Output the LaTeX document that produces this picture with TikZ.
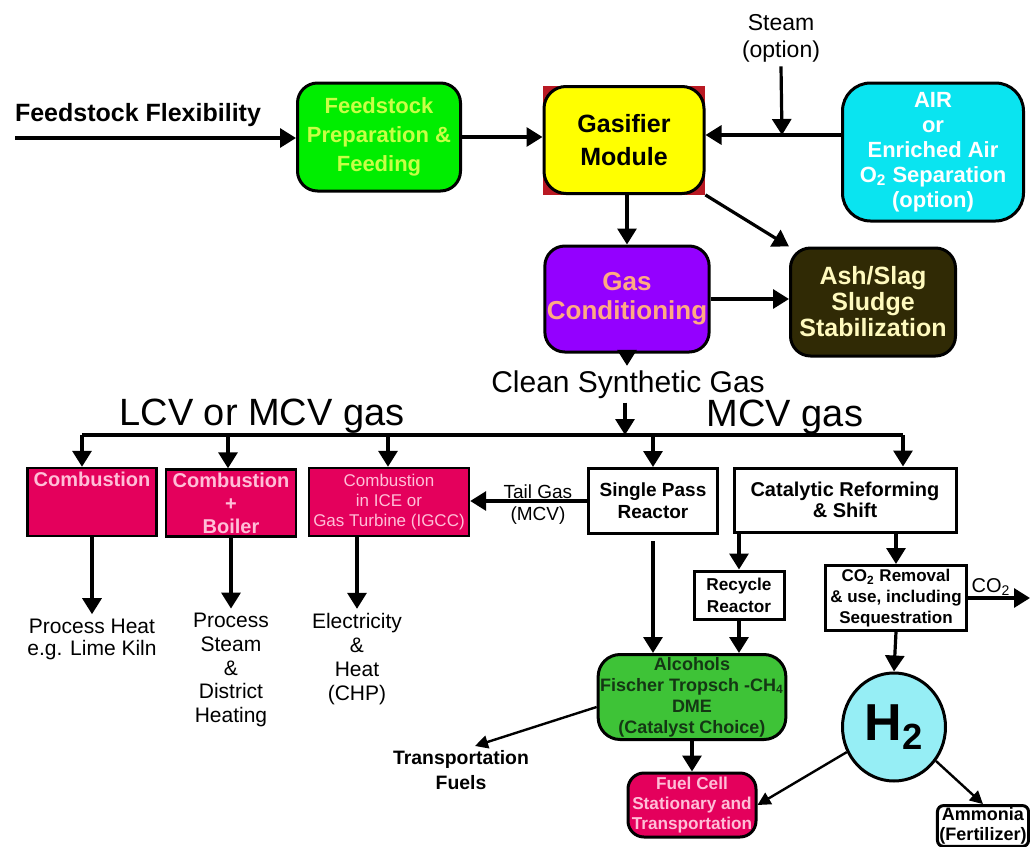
\documentclass[tikz,border=0pt]{standalone}
\usepackage{fontspec}
\setmainfont{Liberation Sans}
\usetikzlibrary{arrows.meta,shapes.geometric}
\definecolor{FeedGreen}{RGB}{0,238,0}
\definecolor{FeedText}{RGB}{200,255,70}
\definecolor{GasYellow}{RGB}{255,255,0}
\definecolor{GasRed}{RGB}{185,25,35}
\definecolor{AirCyan}{RGB}{10,228,240}
\definecolor{CondPurple}{RGB}{148,0,255}
\definecolor{CondText}{RGB}{255,170,130}
\definecolor{AshOlive}{RGB}{48,42,5}
\definecolor{AshText}{RGB}{255,250,190}
\definecolor{CombRed}{RGB}{228,0,92}
\definecolor{CombText}{RGB}{255,190,215}
\definecolor{AlcGreen}{RGB}{62,195,55}
\definecolor{AlcText}{RGB}{20,55,20}
\definecolor{HydroCyan}{RGB}{150,238,245}
\tikzset{
  syn/box/.style={
    draw=black,
    line width=1.5pt,
    align=center,
    inner sep=1pt,
    font=\bfseries
  },
  syn/round/.style={syn/box, rounded corners=10pt},
  syn/plain/.style={syn/box, fill=white},
  syn/comb/.style={syn/box, line width=1.2pt, fill=CombRed, text=CombText},
  syn/label/.style={align=center, inner sep=2pt},
  syn/arrow/.style={-{Triangle[length=8pt,width=9.5pt]}, line width=1.6pt},
  syn/thin/.style={-{Triangle[length=6.5pt,width=6.5pt]}, line width=1.2pt},
  syn/line/.style={line width=1.6pt}
}
\begin{document}
\begin{tikzpicture}[x=0.5pt,y=-0.5pt]
  \path[use as bounding box, fill=white] (0,0) rectangle (1030,847);

  % feed line and gasifier
  \node[syn/label, font=\bfseries\fontsize{12.5}{14}\selectfont, anchor=base] (flex) at (138,121) {Feedstock Flexibility};
  \node[syn/round, fill=FeedGreen, text=FeedText, minimum width=81.5pt, minimum height=54pt,
        font=\bfseries\fontsize{11}{14.5}\selectfont] (prep) at (379,137) {Feedstock\\Preparation \&\\Feeding};
  \node[fill=GasRed, inner sep=0pt, minimum width=81pt, minimum height=54.5pt] (gasback) at (624,140) {};
  \node[syn/round, fill=GasYellow, rounded corners=11pt, minimum width=80pt, minimum height=53.5pt,
        font=\bfseries\fontsize{12.5}{16.5}\selectfont] (gasifier) at (624,140) {Gasifier\\Module};
  \node[syn/label, font=\fontsize{11.5}{13.5}\selectfont] (steam) at (781,38) {Steam\\(option)};
  \coordinate (steamjoin) at (782,135);
  \node[syn/round, fill=AirCyan, text=white, rounded corners=14pt, minimum width=90.5pt, minimum height=69pt,
        font=\bfseries\fontsize{11}{12.5}\selectfont] (air) at (933,152) {AIR\\or\\Enriched Air\\O\textsubscript{2} Separation\\(option)};
  \coordinate (feedin) at (15,138);
  \draw[syn/arrow] (feedin) -- (feedin -| prep.west);
  \draw[syn/arrow] (prep.east) -- (prep.east -| gasifier.west);
  \draw[syn/arrow] (steam.south) -- (steamjoin);
  \draw[syn/arrow] (air.west |- steamjoin) -- (gasifier.east |- steamjoin);

  % conditioning
  \node[syn/round, fill=CondPurple, text=CondText, minimum width=81.5pt, minimum height=53pt,
        font=\bfseries\fontsize{13}{14.5}\selectfont] (cond) at (627,299) {Gas\\Conditioning};
  \node[syn/round, fill=AshOlive, text=AshText, minimum width=82.5pt, minimum height=54pt,
        font=\bfseries\fontsize{12.5}{13}\selectfont] (ash) at (873,302) {Ash/Slag\\Sludge\\Stabilization};
  \draw[syn/arrow] (cond.north |- gasback.south) -- (cond.north);
  \draw[syn/arrow] (gasback.south east) -- (ash.north west);
  \draw[syn/arrow] (cond.east) -- (cond.east -| ash.west);

  % syngas split
  \node[syn/label, font=\fontsize{15}{17}\selectfont, anchor=base] (syngas) at (628,392) {Clean Synthetic Gas};
  \node[syn/label, font=\fontsize{19}{21}\selectfont, anchor=base] (lcv) at (262,425) {LCV or MCV gas};
  \node[syn/label, font=\fontsize{19}{21}\selectfont, anchor=base] (mcv) at (785,426) {MCV gas};
  \coordinate (bus1) at (82,435);
  \coordinate (bus2) at (228,435);
  \coordinate (bus3) at (388,435);
  \coordinate (busin) at (625,435);
  \coordinate (bus4) at (653,435);
  \coordinate (bus5) at (903,435);
  \draw[syn/arrow] (cond.south) -- (cond.south |- syngas.north);
  \draw[syn/arrow] (syngas.south -| busin) -- (busin);
  \draw[syn/line] (bus1) -- (bus5);

  % combustion side
  \node[syn/comb, minimum width=64.5pt, minimum height=34pt,
        font=\bfseries\fontsize{10}{11.5}\selectfont] (comb1) at (92,502) {Combustion\\~\\~};
  \node[syn/comb, minimum width=65pt, minimum height=33.5pt,
        font=\bfseries\fontsize{10}{11.5}\selectfont] (comb2) at (231,503) {Combustion\\+\\Boiler};
  \node[syn/comb, minimum width=80pt, minimum height=34pt,
        font=\fontsize{8.5}{10}\selectfont] (comb3) at (389,502) {Combustion\\in ICE or\\Gas Turbine (IGCC)};
  \node[syn/label, font=\fontsize{10.5}{11}\selectfont] (heat) at (92,639) {Process Heat\\e.g. Lime Kiln};
  \node[syn/label, font=\fontsize{10.5}{11.9}\selectfont] (district) at (231,670) {Process\\Steam\\\&\\District\\Heating};
  \node[syn/label, font=\fontsize{10.5}{12}\selectfont] (elec) at (357,659) {Electricity\\\&\\Heat\\(CHP)};
  \draw[syn/arrow] (bus1) -- (bus1 |- comb1.north);
  \draw[syn/arrow] (bus2) -- (bus2 |- comb2.north);
  \draw[syn/arrow] (bus3) -- (bus3 |- comb3.north);
  \draw[syn/arrow] (heat.north |- comb1.south) -- (heat.north);
  \draw[syn/arrow] (district.north |- comb2.south) -- (district.north);
  \draw[syn/arrow] (elec.north |- comb3.south) -- (elec.north);

  % reactors
  \node[syn/plain, minimum width=64.5pt, minimum height=32.5pt,
        font=\bfseries\fontsize{9.5}{11}\selectfont] (single) at (653,501) {Single Pass\\Reactor};
  \node[syn/plain, minimum width=111pt, minimum height=32pt,
        font=\bfseries\fontsize{10}{10.5}\selectfont] (catal) at (845,500) {Catalytic Reforming\\\& Shift};
  \node[syn/plain, minimum width=45pt, minimum height=24pt,
        font=\bfseries\fontsize{8.6}{11}\selectfont] (recycle) at (739,595) {Recycle\\Reactor};
  \node[syn/plain, minimum width=70.5pt, minimum height=32.5pt,
        font=\bfseries\fontsize{8.5}{10.5}\selectfont] (co2box) at (896,598) {CO\textsubscript{2} Removal\\\& use, including\\Sequestration};
  \draw[syn/arrow] (bus4) -- (bus4 |- single.north);
  \draw[syn/arrow] (bus5) -- (bus5 |- catal.north);
  \draw[syn/arrow] (single.west) -- (single.west -| comb3.east)
    node[pos=0.42, above, inner sep=0.5pt, font=\fontsize{9.5}{11}\selectfont] (tail) {Tail Gas}
    node[pos=0.42, below, inner sep=2pt, font=\fontsize{9.5}{11}\selectfont] (tailmcv) {(MCV)};
  \draw[syn/arrow] (recycle.north |- catal.south) -- (recycle.north);
  \draw[syn/arrow] (co2box.north |- catal.south) -- (co2box.north);
  \coordinate (co2end) at (1030,598);
  \draw[syn/arrow] (co2box.east) -- (co2box.east -| co2end);
  \node[syn/label, font=\fontsize{10}{12}\selectfont] (co2lbl) at (991,587) {CO\textsubscript{2}};

  % products
  \node[syn/round, fill=AlcGreen, text=AlcText, rounded corners=11pt, minimum width=92.5pt, minimum height=42.5pt,
        font=\bfseries\fontsize{9}{10.5}\selectfont] (alc) at (692,697) {Alcohols\\Fischer Tropsch -CH\textsubscript{4}\\DME\\(Catalyst Choice)};
  \node[syn/label, font=\bfseries\fontsize{9.7}{12.5}\selectfont] (fuels) at (461,770) {Transportation\\Fuels};
  \node[syn/round, fill=CombRed, text=CombText, rounded corners=8pt, minimum width=64pt, minimum height=32pt,
        font=\bfseries\fontsize{8.6}{10}\selectfont] (fuelcell) at (692,805) {Fuel Cell\\Stationary and\\Transportation};
  \node[ellipse, draw=black, line width=1.5pt, fill=HydroCyan, inner sep=0pt, minimum width=51.5pt, minimum height=54pt,
        font=\bfseries\fontsize{26}{28}\selectfont] (hydro) at (894,727) {H\textsubscript{2}};
  \node[syn/plain, rounded corners=3pt, minimum width=45.5pt, minimum height=18pt,
        font=\bfseries\fontsize{9}{10}\selectfont] (ammonia) at (983,826) {Ammonia\\(Fertilizer)};
  \draw[syn/arrow, shorten <=3pt] (single.south) -- (single.south |- alc.north);
  \draw[syn/arrow] (recycle.south) -- (recycle.south |- alc.north);
  \draw[syn/thin] ([yshift=-5pt]alc.west) -- ([xshift=7pt]fuels.north);
  \draw[syn/arrow] (alc.south) -- (alc.south |- fuelcell.north);
  \draw[syn/arrow] (co2box.south) -- (hydro.north);
  \draw[syn/thin] (hydro.208) -- (fuelcell.east);
  \draw[syn/thin] (hydro.321) -- (ammonia.north);
\end{tikzpicture}
\end{document}
